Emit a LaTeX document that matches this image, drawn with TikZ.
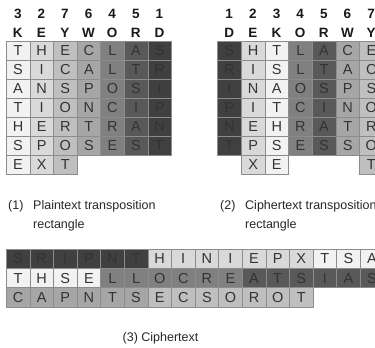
\documentclass[tikz,border=0pt]{standalone}
\usepackage{fontspec}
\setmainfont{Liberation Sans}
\definecolor{cK}{HTML}{F2F2F2}
\definecolor{cE}{HTML}{D9D9D9}
\definecolor{cY}{HTML}{BFBFBF}
\definecolor{cW}{HTML}{A6A6A6}
\definecolor{cO}{HTML}{808080}
\definecolor{cR}{HTML}{595959}
\definecolor{cD}{HTML}{404040}
\colorlet{lc0}{cK}\colorlet{lc1}{cE}\colorlet{lc2}{cY}\colorlet{lc3}{cW}\colorlet{lc4}{cO}\colorlet{lc5}{cR}\colorlet{lc6}{cD}
\colorlet{rc0}{cD}\colorlet{rc1}{cE}\colorlet{rc2}{cK}\colorlet{rc3}{cO}\colorlet{rc4}{cR}\colorlet{rc5}{cW}\colorlet{rc6}{cY}
\begin{document}
\begin{tikzpicture}[x=1pt,y=-1pt,
  cell/.style={draw=black!45, line width=0.5pt, minimum width=23.6pt, minimum height=19pt,
    inner sep=0pt, anchor=north west, font=\fontsize{14.5}{14.5}\selectfont, text=black!80},
  head/.style={inner sep=0pt, font=\fontsize{13.5}{13.5}\selectfont\bfseries, text=black!90},
  captext/.style={inner sep=0pt, font=\fontsize{12.5}{15}\selectfont, text=black!85, anchor=base west}]
\clip (0,0) rectangle (375,348);
\useasboundingbox (0,0) rectangle (375,348);
% left headers
\foreach \n/\k [count=\c from 0] in {3/K,2/E,7/Y,6/W,4/O,5/R,1/D} {
  \node[head] (LN\c) at ({6+23.6*(\c+0.5)},14) {\n};
  \node[head] (LK\c) at ({6+23.6*(\c+0.5)},33) {\k};
}
% right headers
\foreach \n/\k [count=\c from 0] in {1/D,2/E,3/K,4/O,5/R,6/W,7/Y} {
  \node[head] (RN\c) at ({217.4+23.65*(\c+0.5)},14) {\n};
  \node[head] (RK\c) at ({217.4+23.65*(\c+0.5)},33) {\k};
}
% left grid
\foreach \row [count=\r from 0] in {{T,H,E,C,L,A,S},{S,I,C,A,L,T,R},{A,N,S,P,O,S,I},{T,I,O,N,C,I,P},{H,E,R,T,R,A,N},{S,P,O,S,E,S,T}} {
  \foreach \ch [count=\c from 0] in \row {
    \node[cell, fill=lc\c] (L\r\c) at ({6+23.6*\c},{41+19*\r}) {\ch};
  }
}
\foreach \ch [count=\c from 0] in {E,X,T} {
  \node[cell, fill=lc\c] (L6\c) at ({6+23.6*\c},{41+19*6}) {\ch};
}
% right grid
\foreach \row [count=\r from 0] in {{S,H,T,L,A,C,E},{R,I,S,L,T,A,C},{I,N,A,O,S,P,S},{P,I,T,C,I,N,O},{N,E,H,R,A,T,R},{T,P,S,E,S,S,O}} {
  \foreach \ch [count=\c from 0] in \row {
    \node[cell, minimum width=23.65pt, fill=rc\c] (R\r\c) at ({217.4+23.65*\c},{41+19*\r}) {\ch};
  }
}
\foreach \ch/\c in {X/1,E/2,T/6} {
  \node[cell, minimum width=23.65pt, fill=rc\c] (R6\c) at ({217.4+23.65*\c},{41+19*6}) {\ch};
}
% captions
\node[captext] (c1a) at (8,209.5) {(1)};
\node[captext] (c1b) at (33,209.5) {Plaintext transposition};
\node[captext] (c1c) at (33,228) {rectangle};
\node[captext] (c2a) at (220,209.5) {(2)};
\node[captext] (c2b) at (245,209.5) {Ciphertext transposition};
\node[captext] (c2c) at (245,228) {rectangle};
% ciphertext
\foreach \ch/\k [count=\c from 0] in {S/D,R/D,I/D,P/D,N/D,T/D,H/E,I/E,N/E,I/E,E/E,P/E,X/E,T/K,S/K,A/K} {
  \node[cell, minimum height=19.2pt, fill=c\k] (C0-\c) at ({6+23.6*\c},249) {\ch};
}
\foreach \ch/\k [count=\c from 0] in {T/K,H/K,S/K,E/K,L/O,L/O,O/O,C/O,R/O,E/O,A/R,T/R,S/R,I/R,A/R,S/R} {
  \node[cell, minimum height=19.2pt, fill=c\k] (C1-\c) at ({6+23.6*\c},268.2) {\ch};
}
\foreach \ch/\k [count=\c from 0] in {C/W,A/W,P/W,N/W,T/W,S/W,E/Y,C/Y,S/Y,O/Y,R/Y,O/Y,T/Y} {
  \node[cell, minimum height=19.2pt, fill=c\k] (C2-\c) at ({6+23.6*\c},287.4) {\ch};
}
\node[captext, anchor=base] (c3) at (160.5,341.5) {(3) Ciphertext};
\end{tikzpicture}
\end{document}
